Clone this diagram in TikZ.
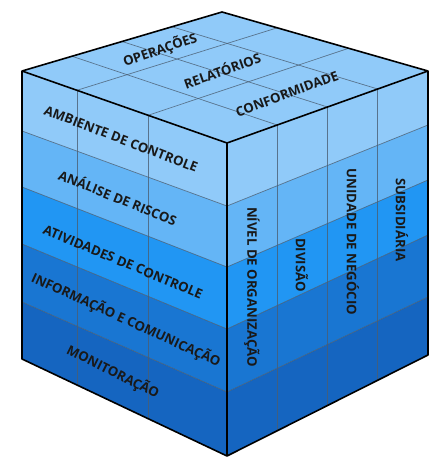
\documentclass[tikz,border=0pt]{standalone}
\usepackage{fontspec}
\setmainfont{Open Sans}
\usetikzlibrary{calc}
\definecolor{cA}{HTML}{90CAF9}
\definecolor{cB}{HTML}{64B5F6}
\definecolor{cC}{HTML}{2196F3}
\definecolor{cD}{HTML}{1976D2}
\definecolor{cE}{HTML}{1565C0}
\definecolor{gridc}{HTML}{4A5E72}
\tikzset{
  gridline/.style={draw=gridc, line width=0.7pt, opacity=0.8},
  edgeline/.style={draw=black, line width=1.6pt, line join=round},
  lbl/.style={font=\bfseries\fontsize{13.2}{15}\selectfont, text=black!90, inner sep=0pt},
}
\begin{document}
\begin{tikzpicture}[x=1pt,y=-1pt]
\useasboundingbox (0,0) rectangle (432,458);
\fill[white] (0,0) rectangle (432,458);
% corners
\coordinate (L) at (22,71);
\coordinate (T) at (222,12);
\coordinate (R) at (428,71);
\coordinate (F) at (227,143);
% left edge
\coordinate (l0) at (22,71);
\coordinate (l1) at (22,131);
\coordinate (l2) at (22,187);
\coordinate (l3) at (22,244);
\coordinate (l4) at (22,302);
\coordinate (l5) at (22,359);
% front edge
\coordinate (f0) at (227,143);
\coordinate (f1) at (227,206);
\coordinate (f2) at (227,267);
\coordinate (f3) at (227,329);
\coordinate (f4) at (227,392);
\coordinate (f5) at (227,456);
% right edge
\coordinate (r0) at (428,71);
\coordinate (r1) at (428,125);
\coordinate (r2) at (428,180);
\coordinate (r3) at (428,235);
\coordinate (r4) at (428,297);
\coordinate (r5) at (428,355);
% top face
\fill[cA] (L) -- (T) -- (R) -- (F) -- cycle;
% left and right face bands
\foreach \i/\j/\c in {0/1/cA,1/2/cB,2/3/cC,3/4/cD,4/5/cE}{
  \fill[\c] (l\i) -- (f\i) -- (f\j) -- (l\j) -- cycle;
  \fill[\c] (f\i) -- (r\i) -- (r\j) -- (f\j) -- cycle;
}
% band boundaries
\foreach \i in {1,2,3,4}{
  \draw[gridline] (l\i) -- (f\i) -- (r\i);
}
% left face columns
\foreach \s in {0.268,0.615}{
  \draw[gridline] ($(l0)!\s!(f0)$) -- ($(l5)!\s!(f5)$);
  \draw[gridline] ($(L)!\s!(F)$) -- ($(T)!\s!(R)$);
}
% right face columns
\foreach \u in {0.25,0.5,0.75}{
  \draw[gridline] ($(f0)!\u!(r0)$) -- ($(f5)!\u!(r5)$);
  \draw[gridline] ($(F)!\u!(R)$) -- ($(L)!\u!(T)$);
}
% outline
\draw[edgeline] (L) -- (T) -- (R) -- (F) -- cycle;
\draw[edgeline] (l0) -- (l5) -- (f5) -- (r5) -- (r0);
\draw[edgeline] (f0) -- (f5);
% top labels
\node[lbl, rotate=19] (op) at (160,50) {OPERAÇÕES};
\node[lbl, rotate=19.5] (rel) at (222,70) {RELATÓRIOS};
\node[lbl, rotate=20.5] (conf) at (287,94) {CONFORMIDADE};
% left labels
\node[lbl, rotate=-21] (amb) at (121,139) {AMBIENTE DE CONTROLE};
\node[lbl, rotate=-22] (ana) at (118,197) {ANÁLISE DE RISCOS};
\node[lbl, rotate=-22.5] (ati) at (123,262) {ATIVIDADES DE CONTROLE};
\node[lbl, rotate=-24.5] (inf) at (126,320) {INFORMAÇÃO E COMUNICAÇÃO};
\node[lbl, rotate=-26.5] (mon) at (113,372) {MONITORAÇÃO};
% right labels
\node[lbl, rotate=-90] (niv) at (252,287) {NÍVEL DE ORGANIZAÇÃO};
\node[lbl, rotate=-90] (div) at (302,265) {DIVISÃO};
\node[lbl, rotate=-90] (uni) at (353,242) {UNIDADE DE NEGÓCIO};
\node[lbl, rotate=-90] (sub) at (402,220) {SUBSIDIÁRIA};
\end{tikzpicture}
\end{document}
